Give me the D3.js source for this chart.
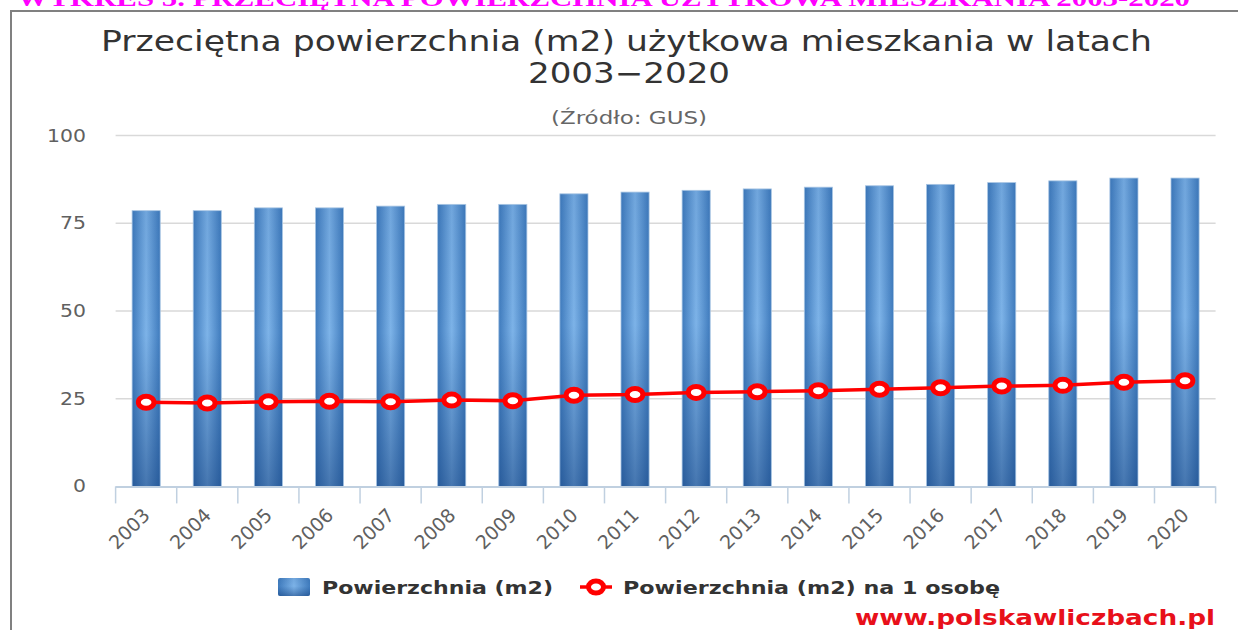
<!DOCTYPE html>
<html><head><meta charset="utf-8">
<script src="https://cdn.jsdelivr.net/npm/d3@7"></script>
<style>html,body{margin:0;padding:0;background:#fff;} svg{display:block}</style>
</head><body>
<svg id="c" width="1238" height="630"></svg>
<script>
const years = ["2003","2004","2005","2006","2007","2008","2009","2010","2011","2012","2013","2014","2015","2016","2017","2018","2019","2020"];
const areaValues = [78.6,78.6,79.4,79.4,79.9,80.4,80.4,83.4,83.9,84.4,84.8,85.3,85.7,86.1,86.6,87.1,87.9,87.9];
const perPersonValues = [24.0,23.8,24.1,24.3,24.1,24.6,24.4,26.0,26.2,26.8,27.0,27.3,27.7,28.1,28.6,28.8,29.7,30.1];
const yTicks = [0,25,50,75,100];
const titleLines = ["Przeciętna powierzchnia (m2) użytkowa mieszkania w latach","2003−2020"];
const subtitle = "(Źródło: GUS)";
const seriesNames = ["Powierzchnia (m2)","Powierzchnia (m2) na 1 osobę"];
const headerText = "WYKRES 5. PRZECIĘTNA POWIERZCHNIA UŻYTKOWA MIESZKANIA 2003-2020";
const siteText = "www.polskawliczbach.pl";

const FONT = "'DejaVu Sans', Verdana, sans-serif";
const SX = 1.2;
const svg = d3.select("#c");

const defs = svg.append("defs");
const gH = defs.append("linearGradient").attr("id","barH").attr("x1","0").attr("x2","1").attr("y1","0").attr("y2","0");
gH.append("stop").attr("offset","0%").attr("stop-color","#3f7bbd");
gH.append("stop").attr("offset","50%").attr("stop-color","#7db3e8");
gH.append("stop").attr("offset","100%").attr("stop-color","#3f7bbd");
const gV = defs.append("linearGradient").attr("id","barV").attr("x1","0").attr("x2","0").attr("y1","0").attr("y2","1");
gV.append("stop").attr("offset","0%").attr("stop-color","#1a4a8a").attr("stop-opacity",0.12);
gV.append("stop").attr("offset","45%").attr("stop-color","#1a4a8a").attr("stop-opacity",0);
gV.append("stop").attr("offset","100%").attr("stop-color","#0f3a78").attr("stop-opacity",0.5);

// text fitted to a given width (the reference image is horizontally stretched)
function ftext(parent, x, y, str, o) {
  const t = parent.append("text")
    .attr("x", x).attr("y", y)
    .attr("text-anchor", o.anchor||"start")
    .attr("font-family", o.family||FONT)
    .attr("font-size", o.size)
    .attr("font-weight", o.weight||"normal")
    .attr("fill", o.fill||"#333")
    .text(str);
  if (o.len) t.attr("textLength", o.len).attr("lengthAdjust","spacingAndGlyphs");
  return t;
}

// header (cut-off magenta)
ftext(svg, 17, 6, headerText, {family:"'Liberation Serif', 'DejaVu Serif', serif", weight:"bold", size:24, fill:"#ff00ff", len:1173});

// frame
svg.append("line").attr("x1",10).attr("x2",1238).attr("y1",11).attr("y2",11).attr("stroke","#808080").attr("stroke-width",2);
svg.append("line").attr("x1",11).attr("x2",11).attr("y1",10).attr("y2",630).attr("stroke","#808080").attr("stroke-width",2);

// titles
ftext(svg, 101, 51, titleLines[0], {size:28, fill:"#333", len:1051});
ftext(svg, 528, 83, titleLines[1], {size:28, fill:"#333", len:202});
ftext(svg, 551, 124, subtitle, {size:17, fill:"#666", len:156});

// scales
const y = d3.scaleLinear().domain([0,100]).range([486.4,135.6]);
const x = d3.scaleBand().domain(years).range([115.6,1215.6]).padding(0);
const bw = x.bandwidth()*0.46;
const cx = d => x(d) + x.bandwidth()/2;

// grid
svg.append("g").selectAll("line").data(yTicks.filter(t=>t>0)).join("line")
  .attr("x1",115.6).attr("x2",1215.6)
  .attr("y1",d=>y(d)).attr("y2",d=>y(d))
  .attr("stroke","#d9d9d9").attr("stroke-width",1.5);

// y axis labels
const yAx = svg.append("g").attr("transform","translate(86,0)")
  .call(d3.axisLeft(y).tickValues(yTicks).tickSize(0).tickPadding(0));
yAx.select(".domain").remove();
yAx.selectAll("text").attr("font-family",FONT).attr("font-size",17).attr("fill","#606060")
  .attr("dy","0.32em").attr("transform",`scale(${SX},1)`);

// bars
const bars = svg.append("g");
bars.selectAll("rect.b").data(years).join("rect").attr("class","b")
  .attr("x",d=>cx(d)-bw/2).attr("width",bw)
  .attr("y",(d,i)=>y(areaValues[i])).attr("height",(d,i)=>y(0)-y(areaValues[i]))
  .attr("fill","url(#barH)");
bars.selectAll("rect.o").data(years).join("rect").attr("class","o")
  .attr("x",d=>cx(d)-bw/2).attr("width",bw)
  .attr("y",(d,i)=>y(areaValues[i])).attr("height",(d,i)=>y(0)-y(areaValues[i]))
  .attr("fill","url(#barV)").attr("stroke","#a9c6e4").attr("stroke-width",0.8);

// x axis line & ticks
svg.append("line").attr("x1",115.6).attr("x2",1215.6).attr("y1",y(0)+0.5).attr("y2",y(0)+0.5)
  .attr("stroke","#c0d0e0").attr("stroke-width",2);
const tickPos = years.map(d=>x(d)).concat([x.range()[1]]);
svg.append("g").selectAll("line").data(tickPos).join("line")
  .attr("x1",d=>d).attr("x2",d=>d).attr("y1",y(0)).attr("y2",y(0)+17)
  .attr("stroke","#c0d0e0").attr("stroke-width",1.5);

const xAx = svg.append("g").attr("transform",`translate(0,${y(0)})`)
  .call(d3.axisBottom(x).tickSize(0));
xAx.select(".domain").remove();
xAx.selectAll("text").attr("font-family",FONT).attr("font-size",19).attr("fill","#606060")
  .attr("x",0).attr("y",0).attr("dy",0).attr("text-anchor","end")
  .attr("transform","translate(5,30) rotate(-45)");

// line series
const line = d3.line().x((d,i)=>cx(years[i])).y(d=>y(d));
svg.append("path").datum(perPersonValues).attr("d",line)
  .attr("fill","none").attr("stroke","#ff0000").attr("stroke-width",3.5).attr("stroke-linejoin","round");
svg.append("g").selectAll("ellipse").data(perPersonValues).join("ellipse")
  .attr("cx",(d,i)=>cx(years[i])).attr("cy",d=>y(d))
  .attr("rx",7.8).attr("ry",6).attr("fill","#fff").attr("stroke","#ff0000").attr("stroke-width",5);

// legend
const lg = svg.append("g");
lg.append("rect").attr("x",278).attr("y",578).attr("width",32).attr("height",18).attr("rx",2).attr("fill","url(#barH)");
lg.append("rect").attr("x",278).attr("y",578).attr("width",32).attr("height",18).attr("rx",2).attr("fill","url(#barV)");
ftext(lg, 322, 594, seriesNames[0], {size:18, weight:"bold", fill:"#333", len:231});
lg.append("line").attr("x1",580).attr("x2",612).attr("y1",587).attr("y2",587).attr("stroke","#ff0000").attr("stroke-width",3.5);
lg.append("ellipse").attr("cx",596).attr("cy",587).attr("rx",7.5).attr("ry",6).attr("fill","#fff").attr("stroke","#ff0000").attr("stroke-width",5);
ftext(lg, 623, 594, seriesNames[1], {size:18, weight:"bold", fill:"#333", len:377});

// website
ftext(svg, 855, 625, siteText, {size:21, weight:"bold", fill:"#e8101a", len:360});
</script>
</body></html>
